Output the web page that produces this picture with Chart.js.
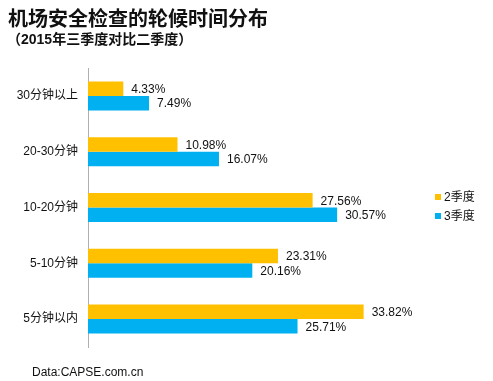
<!DOCTYPE html>
<html>
<head>
<meta charset="utf-8">
<script src="https://cdn.jsdelivr.net/npm/chart.js@4"></script>
<style>
  body { margin: 0; background: #fff; }
  #wrap { position: relative; width: 493px; height: 381px; overflow: hidden; font-family: "Liberation Sans", Arial, "Noto Sans CJK SC", sans-serif; }
  #chart { position: absolute; left: 0; top: 0; }
  .title { position: absolute; left: 8px; top: 3px; font: bold 20px "Noto Sans CJK SC", sans-serif; color: #111; }
  .subtitle { position: absolute; left: 7px; top: 28px; font: bold 14px "Liberation Sans", "Noto Sans CJK SC", sans-serif; color: #111; }
  .source { position: absolute; left: 32px; top: 365px; font-size: 12px; color: #111; }
  .legend { position: absolute; left: 435px; font-size: 12px; color: #111; line-height: 14px; }
  .legend span { display: inline-block; width: 6px; height: 6px; margin-right: 3px; vertical-align: 1px; }
</style>
</head>
<body>
<div id="wrap">
  <canvas id="chart" width="493" height="381"></canvas>
  <div class="title">机场安全检查的轮候时间分布</div>
  <div class="subtitle">（2015年三季度对比二季度）</div>
  <div class="legend" style="top:190px"><span style="background:#FFC000"></span>2季度</div>
  <div class="legend" style="top:209px"><span style="background:#00B0F0"></span>3季度</div>
  <div class="source">Data:CAPSE.com.cn</div>
</div>
<script>
  // Chart data
  const categories = ["30分钟以上", "20-30分钟", "10-20分钟", "5-10分钟", "5分钟以内"];
  const q2Values = [4.33, 10.98, 27.56, 23.31, 33.82];
  const q3Values = [7.49, 16.07, 30.57, 20.16, 25.71];
  const seriesNames = ["2季度", "3季度"];

  // Draw value labels at the end of each bar
  const valueLabels = {
    id: "valueLabels",
    afterDatasetsDraw(chart) {
      const ctx = chart.ctx;
      ctx.save();
      ctx.font = "12px 'Liberation Sans', Arial, sans-serif";
      ctx.fillStyle = "#111";
      ctx.textBaseline = "middle";
      ctx.textAlign = "left";
      chart.data.datasets.forEach((ds, i) => {
        chart.getDatasetMeta(i).data.forEach((bar, j) => {
          ctx.fillText(ds.data[j].toFixed(2) + "%", bar.x + 8, bar.y + 1);
        });
      });
      ctx.restore();
    }
  };

  const config = {
    type: "bar",
    data: {
      labels: categories,
      datasets: [
        { label: seriesNames[0], data: q2Values, backgroundColor: "#FFC000" },
        { label: seriesNames[1], data: q3Values, backgroundColor: "#00B0F0" }
      ]
    },
    options: {
      indexAxis: "y",
      responsive: false,
      animation: false,
      layout: { padding: { top: 68, bottom: 34, right: 79, left: 0 } },
      datasets: { bar: { categoryPercentage: 0.52, barPercentage: 1 } },
      scales: {
        x: { min: 0, max: 40, display: false },
        y: {
          grid: { display: false, drawTicks: false },
          border: { color: "#b0b0b0" },
          ticks: { color: "#111", padding: 10, font: { size: 12, family: "'Liberation Sans', Arial, 'Noto Sans CJK SC'" } },
          afterFit(scale) { scale.width = 88; }
        }
      },
      plugins: {
        legend: { display: false },
        tooltip: { enabled: false }
      }
    },
    plugins: [valueLabels]
  };

  new Chart(document.getElementById("chart").getContext("2d"), config);
</script>
</body>
</html>
